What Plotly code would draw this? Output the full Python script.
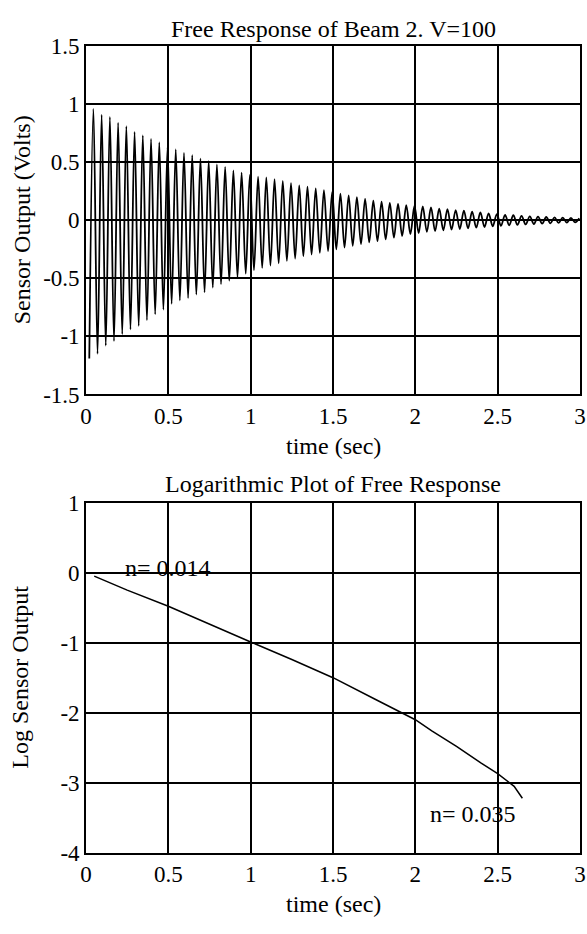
import plotly.graph_objects as go

# ---------------- data ----------------
# Top plot: free response, successive positive and negative peaks (20 Hz, one peak pair per 0.05 s)
cycle_period = 0.05
upper_peak_t0 = 0.045
lower_peak_t0 = 0.02
upper_peaks = [0.96, 0.91, 0.89, 0.84, 0.81, 0.76, 0.73, 0.70, 0.67, 0.63,
               0.61, 0.58, 0.56, 0.53, 0.51, 0.48, 0.46, 0.43, 0.41, 0.39,
               0.375, 0.37, 0.355, 0.34, 0.32, 0.30, 0.29, 0.275, 0.26, 0.245,
               0.23, 0.215, 0.20, 0.185, 0.17, 0.16, 0.15, 0.14, 0.13, 0.125,
               0.12, 0.11, 0.10, 0.095, 0.088, 0.083, 0.075, 0.068, 0.06, 0.053,
               0.047, 0.043, 0.038, 0.034, 0.031, 0.028, 0.025, 0.023, 0.02, 0.018]
lower_peaks = [-1.19, -1.15, -1.08, -1.04, -0.98, -0.94, -0.91, -0.86, -0.81, -0.77,
               -0.72, -0.69, -0.67, -0.64, -0.62, -0.58, -0.55, -0.52, -0.49, -0.46,
               -0.43, -0.41, -0.39, -0.37, -0.35, -0.33, -0.31, -0.295, -0.28, -0.265,
               -0.25, -0.235, -0.22, -0.205, -0.19, -0.18, -0.165, -0.15, -0.135, -0.12,
               -0.11, -0.10, -0.093, -0.087, -0.08, -0.075, -0.07, -0.064, -0.058, -0.052,
               -0.048, -0.044, -0.04, -0.036, -0.032, -0.029, -0.026, -0.023, -0.02, -0.018]

# Bottom plot: logarithm of the response envelope
log_t = [0.05, 0.25, 0.5, 0.75, 1.0, 1.25, 1.5, 1.75, 1.9, 2.0, 2.1, 2.25, 2.4, 2.5, 2.6, 2.65]
log_y = [-0.05, -0.25, -0.48, -0.74, -0.99, -1.24, -1.50, -1.80, -1.98, -2.10, -2.26, -2.48,
         -2.72, -2.87, -3.05, -3.22]

x_ticks = [0, 0.5, 1, 1.5, 2, 2.5, 3]
x_ticktext = ["0", "0.5", "1", "1.5", "2", "2.5", "3"]
y1_ticks = [-1.5, -1, -0.5, 0, 0.5, 1, 1.5]
y1_ticktext = ["-1.5", "-1", "-0.5", "0", "0.5", "1", "1.5"]
y2_ticks = [-4, -3, -2, -1, 0, 1]
y2_ticktext = ["-4", "-3", "-2", "-1", "0", "1"]

title_top = "Free Response of Beam 2. V=100"
title_bottom = "Logarithmic Plot of Free Response"
ylabel_top = "Sensor Output (Volts)"
ylabel_bottom = "Log Sensor Output"
xlabel = "time (sec)"
notes = [("n= 0.014", 0.5, 0.07), ("n= 0.035", 2.35, -3.45)]

# ---------------- build the oscillation from the peaks ----------------
resp_t, resp_y = [], []
for k in range(len(upper_peaks)):
    resp_t.append(lower_peak_t0 + k * cycle_period)
    resp_y.append(lower_peaks[k])
    resp_t.append(upper_peak_t0 + k * cycle_period)
    resp_y.append(upper_peaks[k])

W, H = 587, 934
FONT = "Liberation Serif"
fs_tick = 23
fs_text = 24
ML, MR = 86, 7
PW = W - ML - MR

fig = go.Figure()
fig.add_trace(go.Scatter(x=resp_t, y=resp_y, mode="lines", xaxis="x", yaxis="y",
                         line=dict(color="black", width=1.8, shape="spline", smoothing=1.0),
                         showlegend=False, hoverinfo="skip"))
fig.add_trace(go.Scatter(x=log_t, y=log_y, mode="lines", xaxis="x2", yaxis="y2",
                         line=dict(color="black", width=1.5),
                         showlegend=False, hoverinfo="skip"))

top_px, bot_px = 35, 393
top2_px, bot2_px = 504, 864
ax_common = dict(showgrid=True, gridcolor="black", gridwidth=1.6, zeroline=False,
                 showline=True, linecolor="black", linewidth=1.6, mirror=True,
                 ticks="", tickfont=dict(family=FONT, size=fs_tick, color="black"))

fig.update_layout(
    width=W, height=H,
    margin=dict(l=ML, r=MR, t=0, b=0),
    paper_bgcolor="white", plot_bgcolor="white",
    font=dict(family=FONT, size=fs_text, color="black"),
    xaxis=dict(domain=[0, 1], range=[0, 3], anchor="y", tickvals=x_ticks, ticktext=x_ticktext, **ax_common),
    yaxis=dict(domain=[1 - bot_px / H, 1 - top_px / H], range=[-1.5, 1.5], anchor="x",
               tickvals=y1_ticks, ticktext=y1_ticktext, **ax_common),
    xaxis2=dict(domain=[0, 1], range=[0, 3], anchor="y2", tickvals=x_ticks, ticktext=x_ticktext, **ax_common),
    yaxis2=dict(domain=[1 - bot2_px / H, 1 - top2_px / H], range=[-4, 1], anchor="x2",
                tickvals=y2_ticks, ticktext=y2_ticktext, **ax_common),
)

def ann(text, x, y, **kw):
    fig.add_annotation(text=text, x=x, y=y, showarrow=False, xanchor="center", yanchor="middle",
                       font=dict(family=FONT, size=fs_text, color="black"), **kw)

def px_x(px):
    return (px - ML) / PW

def px_y(py):
    return 1 - py / H

cx = px_x((ML + W - MR) / 2)
ann(title_top, cx, px_y(17), xref="paper", yref="paper")
ann(title_bottom, cx, px_y(485), xref="paper", yref="paper")
ann(xlabel, cx, px_y(446), xref="paper", yref="paper")
ann(xlabel, cx, px_y(917), xref="paper", yref="paper")
ann(ylabel_top, px_x(22), px_y((top_px + bot_px) / 2), xref="paper", yref="paper", textangle=-90)
ann(ylabel_bottom, px_x(20), px_y((top2_px + bot2_px) / 2), xref="paper", yref="paper", textangle=-90)
for text, tx, ty in notes:
    ann(text, tx, ty, xref="x2", yref="y2")

fig.write_html("out.html")
